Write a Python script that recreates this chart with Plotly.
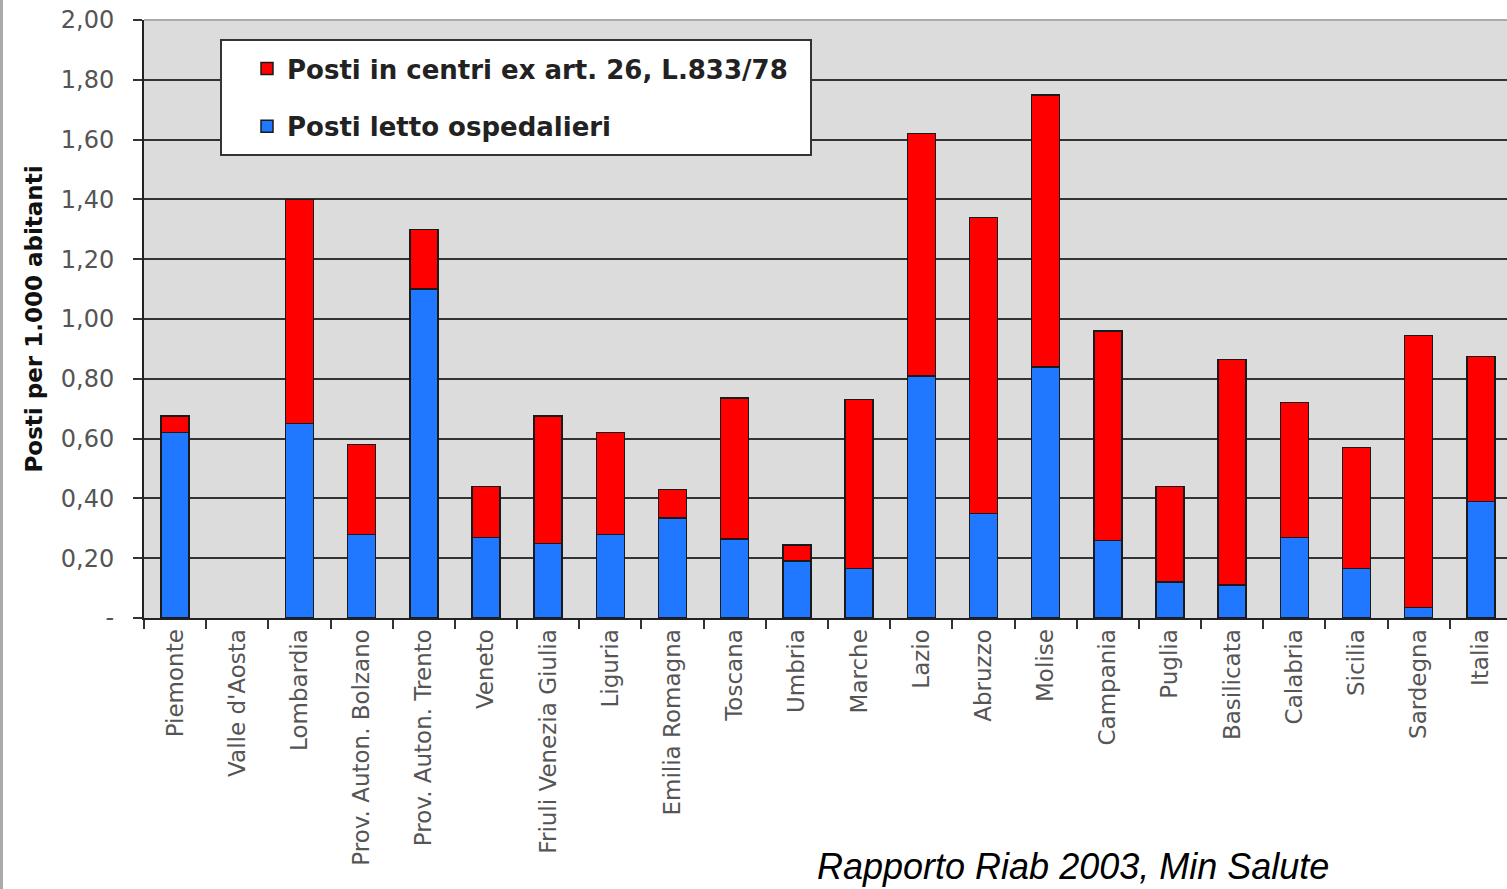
import plotly.graph_objects as go

regions = ["Piemonte", "Valle d'Aosta", "Lombardia", "Prov. Auton. Bolzano",
           "Prov. Auton. Trento", "Veneto", "Friuli Venezia Giulia", "Liguria",
           "Emilia Romagna", "Toscana", "Umbria", "Marche", "Lazio", "Abruzzo",
           "Molise", "Campania", "Puglia", "Basilicata", "Calabria", "Sicilia",
           "Sardegna", "Italia"]

# Posti letto ospedalieri (blue, bottom)
ospedalieri = [0.62, 0.0, 0.65, 0.28, 1.10, 0.27, 0.25, 0.28, 0.335, 0.265, 0.19,
               0.165, 0.81, 0.35, 0.84, 0.26, 0.12, 0.11, 0.27, 0.165, 0.035, 0.39]
# Totals (top of stacked bars)
totali = [0.675, 0.0, 1.40, 0.58, 1.30, 0.44, 0.675, 0.62, 0.43, 0.735, 0.245,
          0.73, 1.62, 1.34, 1.75, 0.96, 0.44, 0.865, 0.72, 0.57, 0.945, 0.875]
# Posti in centri ex art. 26 (red, top)
centri = [round(t - o, 3) for t, o in zip(totali, ospedalieri)]

tick_vals = [0, 0.2, 0.4, 0.6, 0.8, 1.0, 1.2, 1.4, 1.6, 1.8, 2.0]
tick_text = ["-", "0,20", "0,40", "0,60", "0,80", "1,00", "1,20", "1,40", "1,60", "1,80", "2,00"]

W, H = 1507, 889
ML, MR, MT, MB = 144, 0, 20, 271
PW, PH = W - ML - MR, H - MT - MB


def px(x):
    return (x - ML) / PW


def py(y):
    return (H - MB - y) / PH


def nz(vals):
    # zero-height bars are not drawn in the original (no outline)
    return [v if v > 0 else None for v in vals]


fig = go.Figure()
fig.add_trace(go.Bar(
    x=regions, y=nz(ospedalieri), name="Posti letto ospedalieri",
    marker=dict(color="#1f78ff", line=dict(color="#1a1a1a", width=1.5)),
    width=0.45, legendrank=2, legendgroup="osp",
))
fig.add_trace(go.Bar(
    x=regions, y=nz(centri), name="Posti in centri ex art. 26, L.833/78",
    marker=dict(color="#ff0000", line=dict(color="#1a1a1a", width=1.5)),
    width=0.45, legendrank=1, legendgroup="cen",
))

fig.update_layout(
    width=W, height=H,
    margin=dict(l=ML, r=MR, t=MT, b=MB, pad=0),
    barmode="stack",
    paper_bgcolor="white",
    plot_bgcolor="#dcdcdc",
    font=dict(family="DejaVu Sans", size=23, color="#555555"),
    showlegend=True,
    legend=dict(
        x=px(247), y=py(45), xanchor="left", yanchor="top",
        bgcolor="rgba(0,0,0,0)", borderwidth=0,
        traceorder="grouped", tracegroupgap=21, itemwidth=30,
        font=dict(family="DejaVu Sans", size=26, color="#222222", weight="bold"),
    ),
    xaxis=dict(
        type="category",
        range=[-0.5, 21.42],
        tickangle=-90,
        showline=True, linecolor="#222222", linewidth=2,
        ticks="outside", ticklen=9, tickwidth=2, tickcolor="#333333",
        tickson="boundaries",
        showgrid=False,
        tickfont=dict(family="DejaVu Sans", size=23, color="#555555"),
    ),
    yaxis=dict(
        range=[0, 2.0],
        tickvals=tick_vals, ticktext=tick_text,
        showline=True, linecolor="#222222", linewidth=2,
        ticks="outside", ticklen=9, tickwidth=2, tickcolor="#333333",
        ticklabelstandoff=14,
        showgrid=True, gridcolor="#333333", gridwidth=2,
        zeroline=False,
        tickfont=dict(family="DejaVu Sans", size=24, color="#555555"),
        title=dict(text="Posti per 1.000 abitanti", standoff=12,
                   font=dict(family="DejaVu Sans", size=23, color="#111111", weight="bold")),
    ),
    shapes=[
        dict(type="rect", xref="paper", yref="paper",
             x0=px(221), x1=px(811), y0=py(155), y1=py(40),
             fillcolor="white", line=dict(color="#333333", width=2), layer="above"),
        dict(type="line", xref="paper", yref="paper",
             x0=0, x1=1, y0=1, y1=1, line=dict(color="#aaaaaa", width=2)),
        dict(type="line", xref="paper", yref="paper",
             x0=px(1.5), x1=px(1.5), y0=py(0), y1=py(889),
             line=dict(color="#aaaaaa", width=3)),
    ],
    annotations=[
        dict(text="<i>Rapporto Riab 2003, Min Salute</i>", xref="paper", yref="paper",
             x=px(1073), y=py(866), xanchor="center", yanchor="middle",
             showarrow=False,
             font=dict(family="Liberation Sans", size=36, color="#000000")),
    ],
)

fig.write_html("out.html")
